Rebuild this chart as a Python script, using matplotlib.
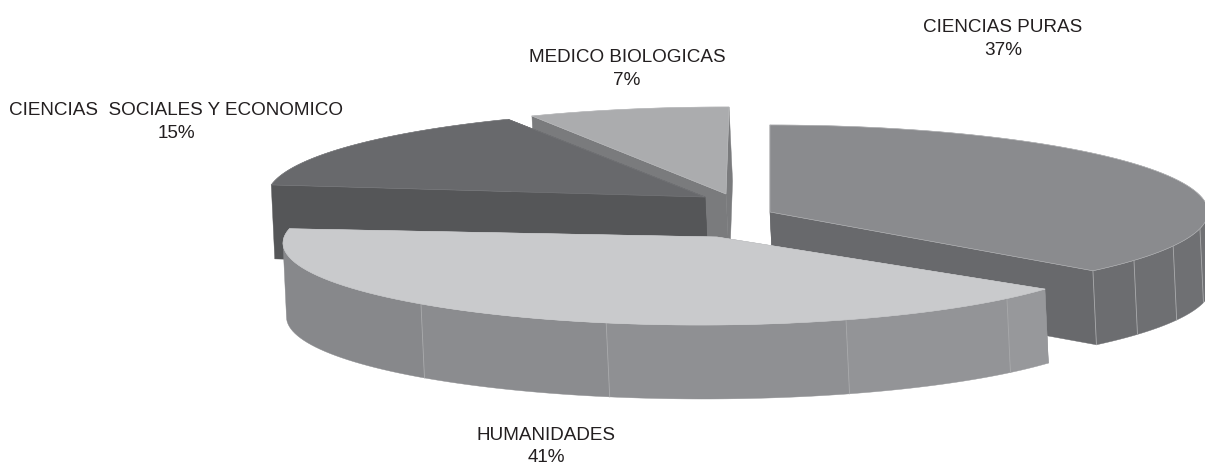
import numpy as np
import matplotlib
matplotlib.use("Agg")
import matplotlib.pyplot as plt

# --- data ---
categories = ["CIENCIAS PURAS", "HUMANIDADES", "CIENCIAS  SOCIALES Y ECONOMICO", "MEDICO BIOLOGICAS"]
values = [37, 41, 15, 7]

# --- style / layout (pixel space, one entry per category) ---
centers = [(770, 212), (700, 243), (705, 197), (726, 194)]
apexes = [(770, 212), (717, 237), (705, 197), (726, 194)]
radii = [(438, 87), (417, 82), (438, 87), (438, 87)]
angle_pads = [(0, -0.7), (-9.0, -0.8), (-2.8, -1.5), (-1.1, 0.4)]
top_colors = ["#8a8b8e", "#c9cacc", "#68696c", "#abacae"]
cut_colors = ["#68696c", "#8f9093", "#555658", "#7a7b7d"]
wall_seams = [[132.5, 123.8, 113, 101, 90], [124.2, 132.6, 159.5, 193, 222, 270], [], []]
wall_colors = [["#6c6d70", "#6e6f72", "#6f7073", "#707174"],
               ["#97989b", "#939497", "#8f9093", "#8b8c8f", "#87888b"], [], []]
edge_colors = ["#b5b6b8", "#c9cacc", "#77787b", "#b8b9bb"]
label_pos = [(1003, 39), (546, 446.5), (176, 122), (627, 69)]
DEPTH = 74
SHIFT = 3.5
plt.rcParams["font.family"] = ["Liberation Sans", "DejaVu Sans"]

fig = plt.figure(figsize=(12.05, 4.66), dpi=100)
ax = fig.add_axes([0, 0, 1, 1])
ax.set_xlim(0, 1205)
ax.set_ylim(466, 0)
ax.axis("off")


def rim(c, r, a0, a1, n=80):
    t = np.radians(np.linspace(a0, a1, n))
    return c[0] + r[0] * np.sin(t), c[1] - r[1] * np.cos(t)


def wall(x, y, color):
    px = np.r_[x, x[::-1] + SHIFT]
    py = np.r_[y, y[::-1] + DEPTH]
    ax.fill(px, py, color=color, lw=0.3, zorder=z)


fractions = np.cumsum([0] + values) / sum(values) * 360
for i in [3, 2, 0, 1]:
    z = {3: 1, 2: 2, 0: 3, 1: 4}[i]
    a0 = fractions[i] + angle_pads[i][0]
    a1 = fractions[i + 1] + angle_pads[i][1]
    c, r, apex = centers[i], radii[i], apexes[i]
    x, y = rim(c, r, a0, a1)
    # cut faces
    for ex, ey in [(x[0], y[0]), (x[-1], y[-1])]:
        wall(np.array([apex[0], ex]), np.array([apex[1], ey]), cut_colors[i])
    # outer wall facets and seams
    seams = wall_seams[i]
    for k in range(len(seams) - 1):
        sx, sy = rim(c, r, seams[k], seams[k + 1], 30)
        wall(sx, sy, wall_colors[i][k])
    for k, s in enumerate(seams[:-1]):
        if k == 0 and i == 1:
            continue
        sx, sy = rim(c, r, s, s, 1)
        ax.plot([sx[0], sx[0] + SHIFT], [sy[0], sy[0] + DEPTH], color="#a9aaac", lw=0.6, zorder=z)
    # top surface
    ax.fill(np.r_[apex[0], x], np.r_[apex[1], y], color=top_colors[i], lw=0.3, zorder=z)
    ax.plot(np.r_[x, apex[0], x[0]], np.r_[y, apex[1], y[0]], color=edge_colors[i], lw=0.4, zorder=z)

for name, val, (lx, ly) in zip(categories, values, label_pos):
    ax.text(lx, ly, f"{name}\n{val}%", ha="center", va="center", fontsize=13.55,
            color="#231f20", linespacing=1.46, zorder=10)

fig.savefig("out.png", dpi=100, facecolor="white")
